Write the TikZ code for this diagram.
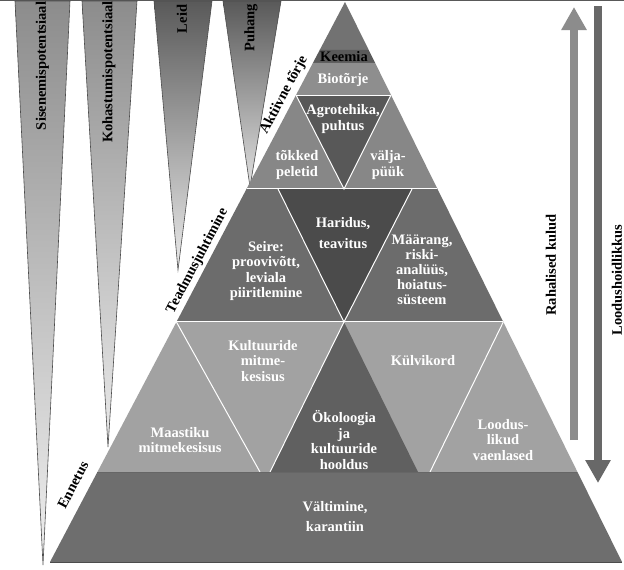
\documentclass[tikz,border=0pt]{standalone}
\usepackage{fontspec}
\setmainfont{Liberation Serif}
\usetikzlibrary{calc,arrows.meta}

\definecolor{tipgray}{HTML}{727272}
\definecolor{keemgray}{HTML}{5A5A5A}
\definecolor{biogray}{HTML}{8E8E8E}
\definecolor{agrogray}{HTML}{878787}
\definecolor{agrodark}{HTML}{585858}
\definecolor{seiregray}{HTML}{6C6C6C}
\definecolor{haridark}{HTML}{4B4B4B}
\definecolor{kultgray}{HTML}{A2A2A2}
\definecolor{okodark}{HTML}{606060}
\definecolor{basegray}{HTML}{6E6E6E}
\definecolor{uparrowgray}{HTML}{8C8C8C}
\definecolor{downarrowgray}{HTML}{686868}

\begin{document}
\begin{tikzpicture}[x=1pt,y=-1pt,
    lbl/.style={text=white, font=\bfseries\fontsize{14.5}{16}\selectfont, align=center, inner sep=0pt},
    sidelbl/.style={font=\bfseries\fontsize{14.5}{16}\selectfont, rotate=62.2, inner sep=0pt},
    funneltxt/.style={font=\bfseries\fontsize{14.5}{16}\selectfont, rotate=90, inner sep=0pt},
    sep/.style={draw=white, line width=1pt},
    funnel/.style={draw=black!70, line width=0.6pt},
    costarrow/.style={line width=8pt, -{Triangle[width=24pt,length=23pt]}}]

  \useasboundingbox (0,0) rectangle (624,570);
  \fill[white] (0,0) rectangle (624,570);
  \draw[black!65, line width=1.2pt] (0,0.6) -- (624,0.6);

  % funnels
  \shadedraw[funnel, top color=black!45, middle color=black!30, bottom color=black!6] (15,1) -- (70,1) -- (43,565) -- cycle;
  \shadedraw[funnel, top color=black!45, middle color=black!25, bottom color=black!8] (82,1) -- (137,1) -- (108,447) -- cycle;
  \shadedraw[funnel, top color=black!65, middle color=black!40, bottom color=black!8] (154,1) -- (212,1) -- (178,270) -- cycle;
  \shadedraw[funnel, top color=black!65, middle color=black!45, bottom color=black!12] (223,1) -- (281,1) -- (250,187) -- cycle;

  \node[funneltxt] (sisen) at (42.5,66) {Sisenemispotentsiaal};
  \node[funneltxt] (kohast) at (109,72) {Kohastumispotentsiaal};
  \node[funneltxt] (leid) at (182,19) {Leid};
  \node[funneltxt] (puhang) at (251,28) {Puhang};

  % pyramid
  \coordinate (apex) at (345,2);
  \coordinate (bl) at (50,562);
  \coordinate (br) at (622,562);
  \coordinate (l50) at ($(apex)!0.0857!(bl)$);
  \coordinate (r50) at ($(apex)!0.0857!(br)$);
  \coordinate (l63) at ($(apex)!0.1089!(bl)$);
  \coordinate (r63) at ($(apex)!0.1089!(br)$);
  \coordinate (l95) at ($(apex)!0.1661!(bl)$);
  \coordinate (r95) at ($(apex)!0.1661!(br)$);
  \coordinate (l189) at ($(apex)!0.3339!(bl)$);
  \coordinate (r189) at ($(apex)!0.3339!(br)$);
  \coordinate (l322) at ($(apex)!0.5714!(bl)$);
  \coordinate (r322) at ($(apex)!0.5714!(br)$);
  \coordinate (l472) at ($(apex)!0.8393!(bl)$);
  \coordinate (r472) at ($(apex)!0.8393!(br)$);
  \coordinate (m189) at (344,189);
  \coordinate (m322) at (344,322);
  \coordinate (h1) at (278,189);
  \coordinate (h2) at (412,189);

  \fill[tipgray] (apex) -- (r50) -- (l50) -- cycle;
  \fill[keemgray] (l50) -- (r50) -- (r63) -- (l63) -- cycle;
  \fill[biogray] (l63) -- (r63) -- (r95) -- (l95) -- cycle;
  \fill[agrogray] (l95) -- (r95) -- (r189) -- (l189) -- cycle;
  \fill[agrodark] (l95) -- (r95) -- (m189) -- cycle;
  \fill[seiregray] (l189) -- (r189) -- (r322) -- (l322) -- cycle;
  \fill[haridark] (h1) -- (h2) -- (m322) -- cycle;
  \fill[kultgray] (l322) -- (r322) -- (r472) -- (l472) -- cycle;
  \fill[okodark] (m322) -- (418,472) -- (270,472) -- cycle;
  \fill[basegray] (l472) -- (r472) -- (br) -- (bl) -- cycle;

  \draw[sep] (l95) -- (r95);
  \draw[sep] (l189) -- (r189);
  \draw[sep] (l322) -- (r322);
  \draw[sep] (l95) -- (m189) -- (r95);
  \draw[sep] (h1) -- (m322) -- (h2);
  \draw[sep] (l322) -- (260,472);
  \draw[sep] (m322) -- (270,472);
  \draw[sep] (r322) -- (430,472);
  \draw[black!60, line width=1pt] (l472) -- (r472);
  \draw[black!70, line width=1pt] (bl) -- (br);

  \node[lbl, text=black] (keemia) at (344,57) {Keemia};
  \node[lbl] (biotorje) at (343,80) {Biotõrje};
  \node[lbl] (agro) at (343,119) {Agrotehika,\\puhtus};
  \node[lbl] (tokked) at (297,165) {tõkked\\peletid};
  \node[lbl] (valja) at (388,165) {välja-\\püük};
  \node[lbl, font=\bfseries\fontsize{14.5}{20.5}\selectfont] (haridus) at (343,233) {Haridus,\\teavitus};
  \node[lbl, font=\bfseries\fontsize{14.5}{15.5}\selectfont] (seire) at (266,271) {Seire:\\proovivõtt,\\leviala\\piiritlemine};
  \node[lbl, font=\bfseries\fontsize{14.5}{15}\selectfont] (maarang) at (422,270) {Määrang,\\riski-\\analüüs,\\hoiatus-\\süsteem};
  \node[lbl, font=\bfseries\fontsize{14.5}{15.5}\selectfont] (kultuur) at (263,361) {Kultuuride\\mitme-\\kesisus};
  \node[lbl, font=\bfseries\fontsize{14.5}{15.5}\selectfont] (maastik) at (180,440) {Maastiku\\mitmekesisus};
  \node[lbl, font=\bfseries\fontsize{14.5}{15.5}\selectfont] (okol) at (344,440) {Ökoloogia\\ja\\kultuuride\\hooldus};
  \node[lbl] (kulvi) at (423,361) {Külvikord};
  \node[lbl, font=\bfseries\fontsize{14.5}{15.5}\selectfont] (looduslik) at (503,440) {Loodus-\\likud\\vaenlased};
  \node[lbl, font=\bfseries\fontsize{14.5}{20}\selectfont] (valtimine) at (335,517) {Vältimine,\\karantiin};

  \node[sidelbl] (aktiivne) at (284,95) {Aktiivne tõrje};
  \node[sidelbl] (teadmus) at (197.5,261) {Teadmusjuhtimine};
  \node[sidelbl] (ennetus) at (73,485) {Ennetus};

  % arrows on the right
  \coordinate (kuludbot) at (574,440);
  \coordinate (kuludtop) at (574,7);
  \coordinate (hoidtop) at (598,6);
  \coordinate (hoidbot) at (598,483);
  \draw[costarrow, uparrowgray] (kuludbot) -- (kuludtop);
  \draw[costarrow, downarrowgray] (hoidtop) -- (hoidbot);

  \node[funneltxt] (kulud) at (551,265) {Rahalised kulud};
  \node[funneltxt] (hoidlik) at (617,280) {Loodushoidlikkus};
\end{tikzpicture}
\end{document}
